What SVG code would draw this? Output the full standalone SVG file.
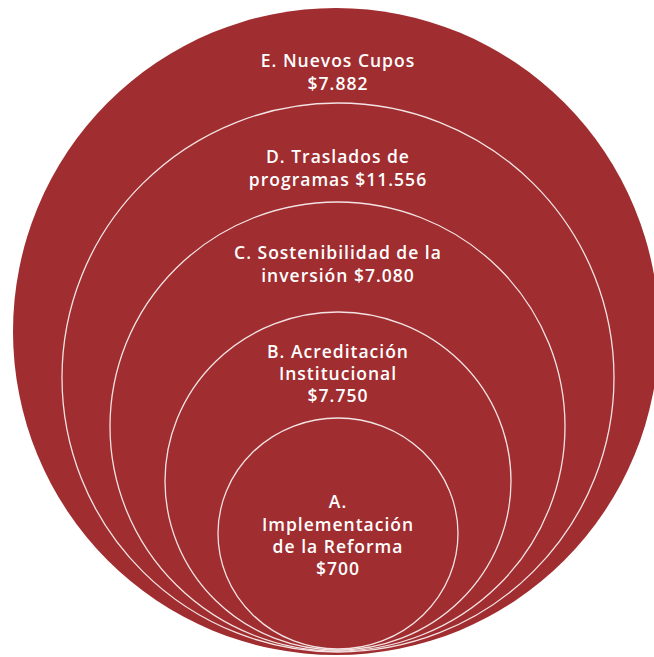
<svg xmlns="http://www.w3.org/2000/svg" width="654" height="657" viewBox="0 0 654 657">
<style>
.bg{fill:#ffffff}
.outer{fill:#a02d30}
.ring{fill:#a02d30;stroke:#f3e3e3;stroke-width:1.3}
.lbl{font-family:"Open Sans","Liberation Sans",sans-serif;font-size:17.5px;font-weight:600;fill:#ffffff;text-anchor:middle;letter-spacing:1px}
</style>
<rect class="bg" x="0" y="0" width="654" height="657"/>
<g id="node-E">
<ellipse class="outer" cx="336" cy="331.5" rx="323" ry="323.5"/>
<text class="lbl" x="338" y="67">E. Nuevos Cupos</text>
<text class="lbl" x="338" y="90">$7.882</text>
</g>
<g id="node-D">
<ellipse class="ring" cx="338" cy="377.5" rx="276" ry="274.5"/>
<text class="lbl" x="338" y="163">D. Traslados de</text>
<text class="lbl" x="338" y="186">programas $11.556</text>
</g>
<g id="node-C">
<ellipse class="ring" cx="337.5" cy="426.5" rx="227.5" ry="224.5"/>
<text class="lbl" x="338" y="259">C. Sostenibilidad de la</text>
<text class="lbl" x="338" y="282">inversión $7.080</text>
</g>
<g id="node-B">
<ellipse class="ring" cx="338" cy="481" rx="173" ry="169"/>
<text class="lbl" x="338" y="358">B. Acreditación</text>
<text class="lbl" x="338" y="380">Institucional</text>
<text class="lbl" x="338" y="402">$7.750</text>
</g>
<g id="node-A">
<ellipse class="ring" cx="338" cy="533.5" rx="120" ry="115.5"/>
<text class="lbl" x="338" y="508">A.</text>
<text class="lbl" x="338" y="531">Implementación</text>
<text class="lbl" x="338" y="553">de la Reforma</text>
<text class="lbl" x="338" y="575">$700</text>
</g>
<g id="connectors"></g>
</svg>
